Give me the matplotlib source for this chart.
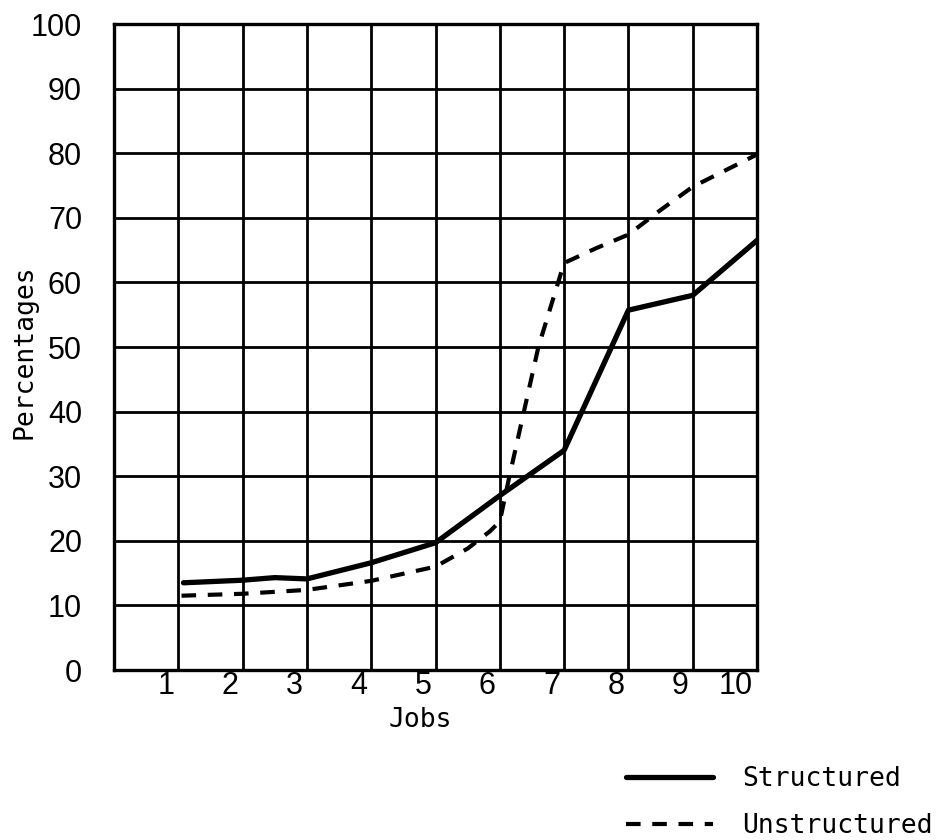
import matplotlib
matplotlib.use('Agg')
import matplotlib.pyplot as plt
import matplotlib.transforms as mtransforms
from matplotlib import font_manager

# Values (percentages per job)
structured_x = [1.08, 2, 2.5, 3, 4, 5, 6, 7, 8, 9, 10]
structured_y = [13.5, 13.9, 14.3, 14.1, 16.6, 19.7, 27, 34, 55.7, 58, 66.5]

unstructured_x = [1.05, 2, 3, 4, 5, 5.5, 5.85, 6.0, 6.15, 6.6, 7, 7.5, 8, 8.5, 9, 10]
unstructured_y = [11.5, 11.8, 12.4, 13.8, 16, 18.8, 21.5, 23, 30, 50, 63, 65.3, 67.4, 71.2, 74.8, 79.8]

x_ticks = list(range(1, 11))
y_ticks = list(range(0, 101, 10))

# Fonts: narrow sans for numbers, mono for the typed labels
names = {f.name for f in font_manager.fontManager.ttflist}
num_font = 'Liberation Sans Narrow' if 'Liberation Sans Narrow' in names else 'Liberation Sans'
txt_font = 'DejaVu Sans Mono'

W, H = 941, 840
fig = plt.figure(figsize=(W / 100, H / 100), dpi=100)
ax = fig.add_axes([114 / W, 1 - 670 / H, (757 - 114) / W, (670 - 24) / H])

ax.plot(structured_x, structured_y, color='black', lw=3.8, solid_capstyle='round',
        label='Structured')
ax.plot(unstructured_x, unstructured_y, color='black', lw=3.0, dashes=(3.5, 2.8),
        label='Unstructured')

ax.set_xlim(0, 10)
ax.set_ylim(0, 100)
ax.set_xticks(range(0, 11))
ax.set_xticklabels([''] + [str(v) for v in x_ticks])
ax.set_yticks(y_ticks)
ax.set_yticklabels([str(v) for v in y_ticks])
ax.grid(True, color='black', lw=2.0)
ax.set_axisbelow(True)
for s in ax.spines.values():
    s.set_linewidth(2.4)

ax.tick_params(axis='both', length=0, labelsize=22)
ax.tick_params(axis='x', pad=1)
ax.tick_params(axis='y', pad=23)
shift = mtransforms.ScaledTranslation(-4 / 100, 0, fig.dpi_scale_trans)
for lbl in ax.get_xticklabels():
    lbl.set_fontfamily(num_font)
    lbl.set_horizontalalignment('right')
    lbl.set_transform(lbl.get_transform() + shift)
for lbl in ax.get_yticklabels():
    lbl.set_fontfamily(num_font)

fig.text(420 / W, 1 - 720 / H, 'Jobs', family=txt_font, fontsize=19,
         ha='center', va='center')
fig.text(25 / W, 1 - 352 / H, 'Percentages', family=txt_font, fontsize=19,
         ha='center', va='center', rotation=90)

leg = ax.legend(loc='upper left', bbox_to_anchor=(626 / W, 1 - 766 / H),
                bbox_transform=fig.transFigure, frameon=False,
                prop={'family': txt_font, 'size': 19},
                handlelength=3.3, handletextpad=1.1, labelspacing=0.8,
                borderpad=0, borderaxespad=0)

fig.savefig('out.png', dpi=100)
